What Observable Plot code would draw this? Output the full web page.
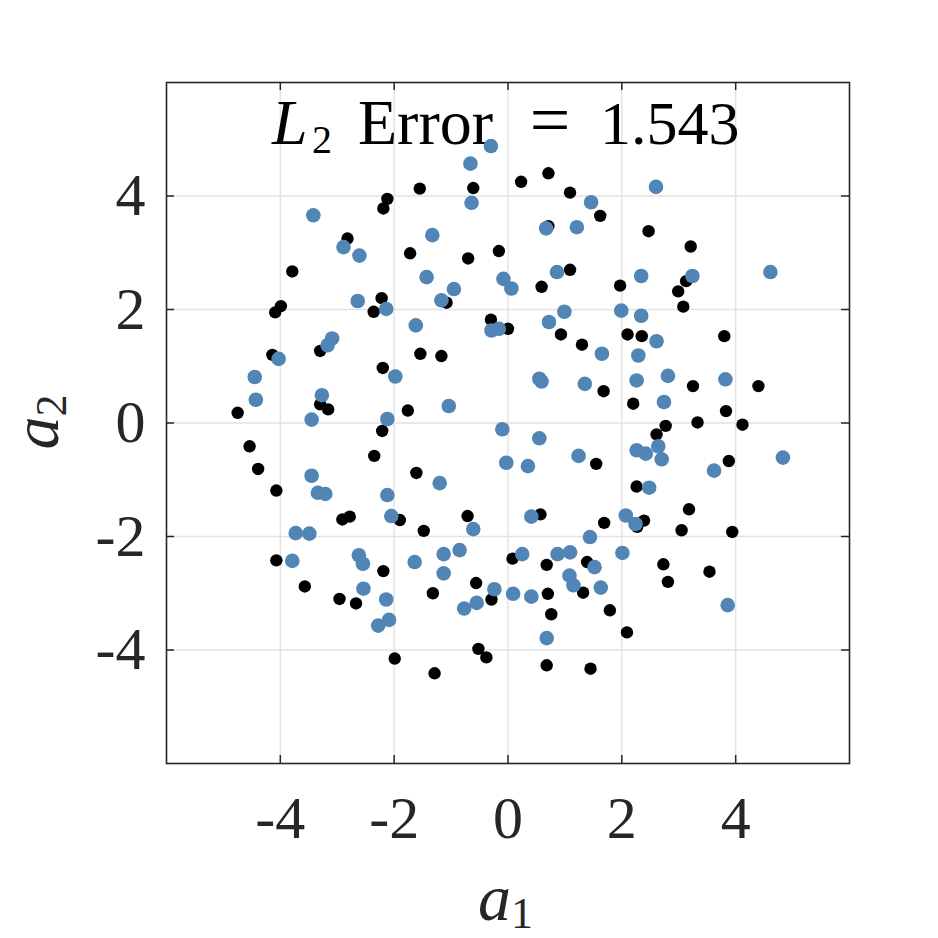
<!DOCTYPE html>
<html><head><meta charset="utf-8">
<script src="https://cdn.jsdelivr.net/npm/d3@7"></script>
<script src="https://cdn.jsdelivr.net/npm/@observablehq/plot@0.6"></script>
<style>html,body{margin:0;padding:0;background:#fff}svg{display:block}</style>
</head><body><div id="chart"></div>
<script>
// Black points (a1, a2)
const blackX = [-2.12,-2.19,-2.82,-3.79,-2.22,-2.36,-3.99,-4.09,-1.55,-0.61,
  0.23,0.71,1.09,1.62,0.71,-1.72,-0.70,-0.16,-1.08,0.59,
  1.09,1.97,2.47,3.21,3.13,2.99,3.08,-4.14,-3.30,-2.20,
  -4.75,-3.30,-3.16,-2.21,-4.54,-4.39,-2.35,-4.07,-2.91,-2.78,
  -1.90,-0.30,0.00,-1.54,-1.17,-1.76,0.93,1.30,1.68,1.55,
  -1.61,-1.48,-0.71,0.57,1.69,2.10,2.35,3.80,3.25,4.40,
  2.20,3.83,2.77,3.33,4.12,2.61,3.88,2.26,3.18,2.39,
  2.27,3.05,3.94,-4.07,-2.19,-3.57,-2.96,-2.67,-1.99,-1.32,
  -0.56,-0.29,-1.29,-0.52,-0.38,0.08,0.68,1.39,1.32,0.70,
  0.76,1.79,2.09,0.68,1.45,2.73,2.81,3.54];
const blackY = [3.95,3.78,3.25,2.67,2.20,1.96,2.06,1.95,4.13,4.14,
  4.25,4.40,4.06,3.65,3.47,2.99,2.90,3.03,2.12,2.40,
  2.70,2.42,3.38,3.11,2.50,2.32,2.05,1.20,1.27,0.97,
  0.18,0.33,0.24,-0.14,-0.41,-0.81,-0.58,-1.19,-1.70,-1.65,
  -1.71,1.82,1.66,1.22,1.18,0.22,1.56,1.38,0.56,-0.72,
  -0.88,-1.90,-1.64,-1.61,-1.76,1.56,1.53,1.53,0.65,0.65,
  0.34,0.21,-0.05,0.01,-0.03,-0.20,-0.67,-1.12,-1.52,-1.72,
  -1.83,-1.89,-1.92,-2.42,-2.61,-2.88,-3.10,-3.18,-4.15,-3.00,
  -2.82,-3.11,-4.41,-3.98,-4.13,-2.39,-2.50,-2.45,-2.99,-3.01,
  -3.37,-3.30,-3.69,-4.27,-4.33,-2.49,-2.80,-2.62];

// Blue points (a1, a2)
const blueX = [-3.42,-2.89,-2.61,-2.64,-2.14,-0.30,-0.66,-0.64,1.46,0.67,
  1.21,-1.33,-1.43,-0.95,-1.17,-0.08,0.06,0.86,1.99,0.99,
  2.60,2.34,3.24,4.61,2.34,-4.03,-3.17,-3.09,-1.98,-4.45,
  -4.43,-3.27,-3.45,-2.12,-3.45,-3.34,-3.21,-2.12,-2.05,-3.73,
  -3.49,-1.62,-0.29,-0.16,-1.04,0.72,1.65,0.55,0.59,1.35,
  -0.10,0.55,-0.03,0.35,1.24,-1.20,-0.61,0.41,1.44,2.61,
  2.29,2.26,2.81,3.82,2.74,2.64,2.26,2.42,2.70,4.83,
  3.62,2.48,2.07,2.24,-3.79,-2.62,-2.55,-2.54,-2.14,-2.09,
  -2.28,-1.64,-1.13,-0.85,-1.13,-0.24,-0.55,-0.77,0.25,0.09,
  0.41,0.87,1.09,1.52,1.08,1.15,1.63,0.68,2.01,3.86];
const blueY = [3.66,3.10,2.95,2.15,2.01,4.88,4.57,3.88,3.89,3.43,
  3.45,3.31,2.57,2.36,2.16,2.54,2.37,2.66,1.98,1.96,
  4.16,2.59,2.59,2.66,1.89,1.13,1.37,1.49,0.82,0.81,
  0.41,0.49,0.06,0.07,-0.93,-1.23,-1.25,-1.27,-1.64,-1.94,
  -1.95,1.72,1.63,1.66,0.30,1.78,1.22,0.78,0.73,0.69,
  -0.11,-0.27,-0.70,-0.76,-0.58,-1.06,-1.87,-1.65,-2.01,1.44,
  1.19,0.75,0.83,0.77,0.37,-0.41,-0.48,-0.54,-0.64,-0.61,
  -0.84,-1.14,-1.63,-1.78,-2.43,-2.33,-2.48,-2.92,-3.11,-3.47,
  -3.57,-2.45,-2.31,-2.24,-2.65,-2.93,-3.17,-3.27,-2.31,-3.01,
  -3.06,-2.31,-2.28,-2.54,-2.69,-2.86,-2.90,-3.79,-2.29,-3.21];

const tickValues = [-4, -2, 0, 2, 4];
const tickLabels = ["-4", "-2", "0", "2", "4"];
const axisDomain = [-6, 6];
const titleMain = "L";
const titleSub = "2";
const titleWord = "Error";
const titleEq = "=";
const titleValue = "1.543";
const xLabel = ["a", "1"];
const yLabel = ["a", "2"];

const black = blackX.map((x, i) => ({x, y: blackY[i]}));
const blue = blueX.map((x, i) => ({x, y: blueY[i]}));

const W = 938, H = 938, mL = 166, mR = 89, mT = 82, mB = 175;
const fw = W - mL - mR, fh = H - mT - mB;
const font = "'Liberation Serif', 'Times New Roman', 'DejaVu Serif', serif";
const ink = "#262626";
const gridCol = "#e2e2e2";
const fmt = d => tickLabels[tickValues.indexOf(d)];

const plot = Plot.plot({
  width: W, height: H,
  marginLeft: mL, marginRight: mR, marginTop: mT, marginBottom: mB,
  style: {fontFamily: font, background: "white", color: ink},
  x: {domain: axisDomain},
  y: {domain: axisDomain},
  marks: [
    Plot.gridX(tickValues, {stroke: gridCol, strokeOpacity: 1, strokeWidth: 1.4}),
    Plot.gridY(tickValues, {stroke: gridCol, strokeOpacity: 1, strokeWidth: 1.4}),
    Plot.ruleX(tickValues, {insetTop: fh - 8, stroke: ink, strokeWidth: 1.5}),
    Plot.ruleX(tickValues, {insetBottom: fh - 8, stroke: ink, strokeWidth: 1.5}),
    Plot.ruleY(tickValues, {insetRight: fw - 8, stroke: ink, strokeWidth: 1.5}),
    Plot.ruleY(tickValues, {insetLeft: fw - 8, stroke: ink, strokeWidth: 1.5}),
    Plot.axisX(tickValues, {tickSize: 0, tickPadding: 32, fontSize: 60, tickFormat: fmt, label: null, fill: ink}),
    Plot.axisY(tickValues, {tickSize: 0, tickPadding: 21, fontSize: 60, tickFormat: fmt, label: null, fill: ink}),
    Plot.dot(black, {x: "x", y: "y", r: 6.2, fill: "#000000"}),
    Plot.dot(blue, {x: "x", y: "y", r: 7.3, fill: "#5085b5"}),
    Plot.frame({stroke: ink, strokeWidth: 1.6})
  ]
});

document.getElementById("chart").appendChild(plot);

const svg = d3.select(plot);
// Title inside plot area (drawn beneath the points)
const tg = svg.insert("g", 'g[aria-label="dot"]')
  .attr("font-family", font).attr("fill", "#000").attr("text-anchor", "start");
tg.append("text").attr("x", 272).attr("y", 144).attr("font-size", 64).attr("font-style", "italic").text(titleMain);
tg.append("text").attr("x", 312).attr("y", 153).attr("font-size", 40).text(titleSub);
tg.append("text").attr("x", 358).attr("y", 144).attr("font-size", 64).text(titleWord);
tg.append("text").attr("x", 550).attr("y", 144).attr("font-size", 72).attr("text-anchor", "middle").text(titleEq);
tg.append("text").attr("x", 600).attr("y", 144).attr("font-size", 62).text(titleValue);

// Axis labels
const lg = svg.append("g").attr("font-family", font).attr("fill", ink).attr("text-anchor", "start");
const xl = lg.append("text").attr("x", 478).attr("y", 920).attr("font-size", 66);
xl.append("tspan").attr("font-style", "italic").text(xLabel[0]);
xl.append("tspan").attr("font-size", 44).attr("dy", 8).text(xLabel[1]);
const yl = lg.append("text").attr("transform", "translate(58,422) rotate(-90)").attr("text-anchor", "middle").attr("font-size", 66);
yl.append("tspan").attr("font-style", "italic").text(yLabel[0]);
yl.append("tspan").attr("font-size", 44).attr("dy", 8).text(yLabel[1]);
</script>
</body></html>
